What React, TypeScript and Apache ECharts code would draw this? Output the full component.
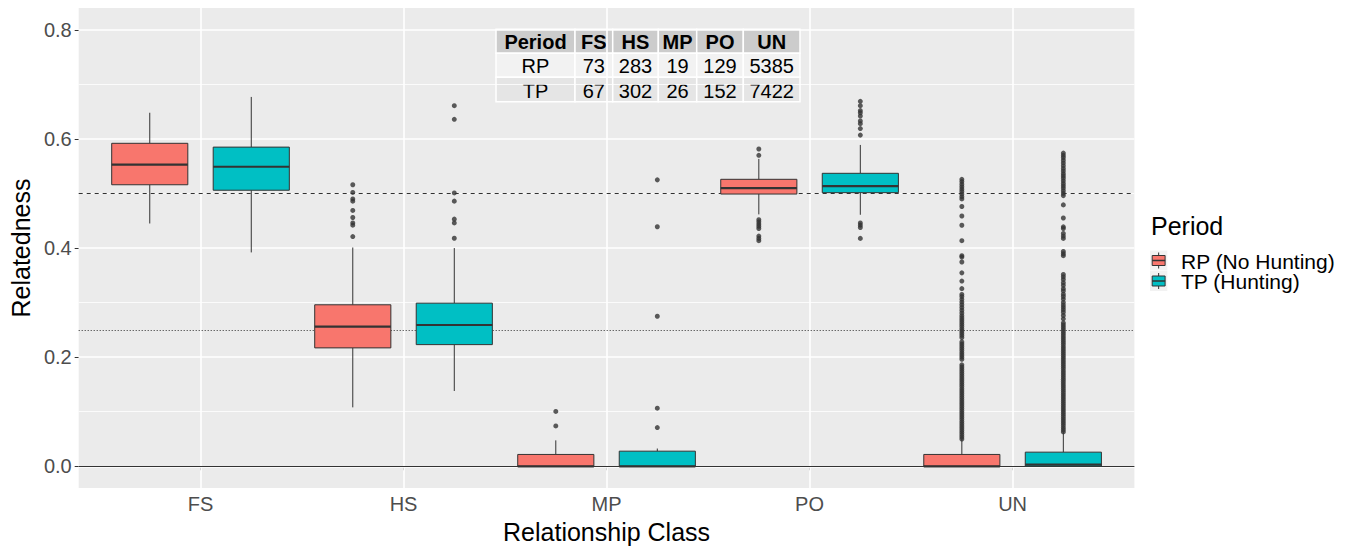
import React, { useEffect, useRef } from "react";
import * as echarts from "echarts";

const categories = ["FS", "HS", "MP", "PO", "UN"];
const periods = ["RP (No Hunting)", "TP (Hunting)"];
const periodColors = ["#F8766D", "#00BFC4"];
const yTicks = [0, 0.2, 0.4, 0.6, 0.8];
const yMinorTicks = [0.1, 0.3, 0.5, 0.7];
const refDashed = 0.5;
const refDotted = 0.25;
const refSolid = 0;

// [lowerWhisker, q1, median, q3, upperWhisker]
const boxRP = [
  [0.445, 0.516, 0.553, 0.592, 0.648],
  [0.108, 0.217, 0.256, 0.296, 0.401],
  [0, 0, 0, 0.0217, 0.0475],
  [0.4617, 0.499, 0.51, 0.526, 0.5634],
  [0, 0, 0, 0.0217, 0.05],
];
const boxTP = [
  [0.392, 0.506, 0.549, 0.585, 0.677],
  [0.138, 0.223, 0.259, 0.299, 0.4],
  [0, 0, 0, 0.0277, 0.0325],
  [0.461, 0.5015, 0.5134, 0.537, 0.589],
  [0, 0, 0.003, 0.0259, 0.0626],
];

const outFS_RP: number[] = [];
const outHS_RP = [0.516, 0.502, 0.49, 0.486, 0.469, 0.456, 0.446, 0.442, 0.421];
const outMP_RP = [0.1005, 0.074];
const outPO_RP = [0.5815, 0.57, 0.452, 0.448, 0.444, 0.44, 0.4358, 0.422, 0.4177, 0.4135];
const outUN_RP = [
  0.05, 0.054, 0.058, 0.062, 0.066, 0.07, 0.074, 0.078, 0.082, 0.086, 0.09, 0.094, 0.098,
  0.102, 0.106, 0.11, 0.114, 0.118, 0.122, 0.126, 0.13, 0.134, 0.138, 0.142, 0.146, 0.15,
  0.154, 0.158, 0.162, 0.166, 0.17, 0.174, 0.178, 0.182, 0.186, 0.196, 0.2, 0.204, 0.208,
  0.212, 0.216, 0.22, 0.224, 0.228, 0.236, 0.24, 0.244, 0.248, 0.252, 0.256, 0.26, 0.264,
  0.268, 0.272, 0.276, 0.281, 0.286, 0.291, 0.296, 0.301, 0.306, 0.311, 0.315,
  0.3256, 0.3395, 0.3545, 0.3744, 0.3834, 0.386, 0.4135, 0.4418, 0.4587, 0.4762,
  0.49, 0.4942, 0.499, 0.5038, 0.508, 0.5123, 0.517, 0.5219, 0.526,
];

const outFS_TP: number[] = [];
const outHS_TP = [0.661, 0.636, 0.501, 0.486, 0.453, 0.446, 0.418];
const outMP_TP = [0.525, 0.439, 0.275, 0.1065, 0.071];
const outPO_TP = [0.669, 0.661, 0.652, 0.648, 0.642, 0.633, 0.628, 0.619, 0.607, 0.446, 0.442, 0.4376, 0.4177];
const outUN_TP = [
  0.063, 0.067, 0.071, 0.075, 0.079, 0.083, 0.087, 0.091, 0.095, 0.099, 0.103, 0.107,
  0.111, 0.115, 0.119, 0.123, 0.127, 0.131, 0.135, 0.139, 0.143, 0.147, 0.151, 0.155,
  0.159, 0.163, 0.167, 0.171, 0.175, 0.179, 0.183, 0.187, 0.191, 0.195, 0.199, 0.203,
  0.207, 0.211, 0.215, 0.219, 0.223, 0.227, 0.231, 0.235, 0.239, 0.243, 0.247, 0.251,
  0.255, 0.259, 0.263,
  0.2703, 0.2763, 0.2823, 0.2871, 0.2913, 0.2955, 0.3003, 0.3064, 0.3112, 0.3154, 0.3214,
  0.3256, 0.3316, 0.3365, 0.3425, 0.3473, 0.3516, 0.386, 0.3895, 0.3937, 0.4177, 0.422,
  0.4268, 0.4358, 0.4389, 0.4551, 0.4791, 0.4961, 0.5003, 0.5051, 0.5099, 0.5141, 0.5183,
  0.5232, 0.528, 0.5322, 0.5364, 0.5412, 0.546, 0.551, 0.556, 0.561, 0.566, 0.57, 0.574,
];

const outliersRP = [outFS_RP, outHS_RP, outMP_RP, outPO_RP, outUN_RP];
const outliersTP = [outFS_TP, outHS_TP, outMP_TP, outPO_TP, outUN_TP];

const tableHeader = ["Period", ...categories];
const tableRowLabels = ["RP", "TP"];
const countsRP = [73, 283, 19, 129, 5385];
const countsTP = [67, 302, 26, 152, 7422];

const FONT = "'Liberation Sans', Arial, sans-serif";
const DODGE = 0.25;
const HALF = 0.1875;
const INK = "#333333";

function boxSeries(name: string, boxes: number[][], offset: number, color: string) {
  const data = boxes.map((b, i) => [i + 1, ...b]);
  return {
    type: "custom",
    name,
    z: 3,
    encode: { x: 0, y: [1, 2, 3, 4, 5] },
    data,
    renderItem: (params: any, api: any) => {
      const x = api.value(0) + offset;
      const lw = api.value(1), q1 = api.value(2), med = api.value(3), q3 = api.value(4), uw = api.value(5);
      const c = api.coord([x, q1]);
      const pUW = api.coord([x, uw]);
      const pLW = api.coord([x, lw]);
      const pTL = api.coord([x - HALF, q3]);
      const pBR = api.coord([x + HALF, q1]);
      const pML = api.coord([x - HALF, med]);
      const pMR = api.coord([x + HALF, med]);
      const pQ3 = api.coord([x, q3]);
      return {
        type: "group",
        children: [
          { type: "line", shape: { x1: pQ3[0], y1: pQ3[1], x2: pUW[0], y2: pUW[1] }, style: { stroke: INK, lineWidth: 1 } },
          { type: "line", shape: { x1: c[0], y1: c[1], x2: pLW[0], y2: pLW[1] }, style: { stroke: INK, lineWidth: 1 } },
          {
            type: "rect",
            shape: { x: pTL[0], y: pTL[1], width: pBR[0] - pTL[0], height: pBR[1] - pTL[1] },
            style: { fill: color, stroke: INK, lineWidth: 1 },
          },
          { type: "line", shape: { x1: pML[0], y1: pML[1], x2: pMR[0], y2: pMR[1] }, style: { stroke: INK, lineWidth: 2.2 } },
        ],
      };
    },
  };
}

function outlierSeries(name: string, outs: number[][], offset: number) {
  const data: number[][] = [];
  outs.forEach((arr, i) => arr.forEach((v) => data.push([i + 1 + offset, v])));
  return {
    type: "scatter",
    name,
    z: 4,
    data,
    symbol: "circle",
    symbolSize: 5,
    itemStyle: { color: INK },
    silent: true,
  };
}

function buildTable() {
  const colX = [496, 575, 612.7, 658.3, 696.7, 743.3, 800];
  const rowY = [29.3, 53.3, 77.3, 101.7];
  const fills = ["#CCCCCC", "#F2F2F2", "#E5E5E5"];
  const rows = [tableHeader, [tableRowLabels[0], ...countsRP.map(String)], [tableRowLabels[1], ...countsTP.map(String)]];
  const children: any[] = [];
  rows.forEach((row, r) => {
    row.forEach((txt, c) => {
      children.push({
        type: "rect",
        shape: { x: colX[c], y: rowY[r], width: colX[c + 1] - colX[c], height: rowY[r + 1] - rowY[r] },
        style: { fill: fills[r], stroke: "#FFFFFF", lineWidth: 1.5 },
      });
      children.push({
        type: "text",
        x: (colX[c] + colX[c + 1]) / 2,
        y: (rowY[r] + rowY[r + 1]) / 2 + 1,
        style: {
          text: txt,
          fill: "#000000",
          font: `${r === 0 ? "bold " : ""}20px ${FONT}`,
          align: "center",
          verticalAlign: "middle",
        },
      });
    });
  });
  return { type: "group", children, z: 10 };
}

function buildLegend() {
  const children: any[] = [
    {
      type: "text",
      x: 1151,
      y: 226,
      style: { text: "Period", fill: "#000", font: `25px ${FONT}`, verticalAlign: "middle" },
    },
  ];
  periods.forEach((p, i) => {
    const top = 250.5 + i * 20.5;
    const left = 1150;
    const w = 17.3, h = 20;
    children.push({ type: "rect", shape: { x: left, y: top, width: w, height: h }, style: { fill: "#F2F2F2" } });
    children.push({ type: "line", shape: { x1: left + w / 2, y1: top + 2, x2: left + w / 2, y2: top + h - 2 }, style: { stroke: INK, lineWidth: 1 } });
    children.push({ type: "rect", shape: { x: left + 2.2, y: top + 5, width: w - 4.4, height: 10 }, style: { fill: periodColors[i], stroke: INK, lineWidth: 1 } });
    children.push({ type: "line", shape: { x1: left + 2.2, y1: top + 10, x2: left + w - 2.2, y2: top + 10 }, style: { stroke: INK, lineWidth: 1.5 } });
    children.push({
      type: "text",
      x: 1181,
      y: top + 10.5,
      style: { text: p, fill: "#000", font: `21px ${FONT}`, verticalAlign: "middle" },
    });
  });
  return { type: "group", children };
}

export default function App() {
  const ref = useRef<HTMLDivElement>(null);
  useEffect(() => {
    if (!ref.current) return;
    const chart = echarts.init(ref.current, undefined, { renderer: "svg" });
    const majorLine = { color: "#FFFFFF", width: 1.6, type: "solid" };
    const minorLine = { color: "#FFFFFF", width: 0.8, type: "solid" };
    const gridMarks = [
      ...yTicks.map((v) => ({ yAxis: v, lineStyle: majorLine })),
      ...yMinorTicks.map((v) => ({ yAxis: v, lineStyle: minorLine })),
      ...categories.map((_, i) => ({ xAxis: i + 1, lineStyle: majorLine })),
    ];
    const refMarks = [
      { yAxis: refSolid, lineStyle: { color: INK, width: 1, type: "solid" } },
      { yAxis: refDashed, lineStyle: { color: "#1a1a1a", width: 0.9, type: [4, 4] } },
      { yAxis: refDotted, lineStyle: { color: "#1a1a1a", width: 0.9, type: [1, 2] } },
    ];
    const markBase = { silent: true, symbol: ["none", "none"], label: { show: false }, emphasis: { disabled: true }, animation: false };
    chart.setOption({
      animation: false,
      grid: {
        left: 73.6,
        right: 215.6,
        top: 8,
        bottom: 54,
        show: true,
        backgroundColor: "#EBEBEB",
        borderWidth: 0,
        containLabel: false,
      },
      xAxis: {
        type: "value",
        min: 0.4,
        max: 5.6,
        axisLine: { show: false },
        splitLine: { show: false },
        axisTick: { show: true, customValues: [1, 2, 3, 4, 5], length: 4, lineStyle: { color: INK } },
        axisLabel: {
          customValues: [1, 2, 3, 4, 5],
          formatter: (v: number) => categories[Math.round(v) - 1] ?? "",
          color: "#4D4D4D",
          fontSize: 20,
          fontFamily: FONT,
          margin: 6,
        },
        name: "Relationship Class",
        nameLocation: "middle",
        nameGap: 28,
        nameTextStyle: { fontSize: 25, color: "#000", fontFamily: FONT, verticalAlign: "top" },
      },
      yAxis: {
        type: "value",
        min: -0.04,
        max: 0.84,
        axisLine: { show: false },
        splitLine: { show: false },
        axisTick: { show: true, customValues: yTicks, length: 4, lineStyle: { color: INK } },
        axisLabel: {
          customValues: yTicks,
          formatter: (v: number) => v.toFixed(1),
          color: "#4D4D4D",
          fontSize: 20,
          fontFamily: FONT,
          margin: 7,
        },
        name: "Relatedness",
        nameLocation: "middle",
        nameGap: 40,
        nameRotate: 90,
        nameTextStyle: { fontSize: 25, color: "#000", fontFamily: FONT },
      },
      series: [
        { type: "scatter", name: "_grid", data: [], z: 1, markLine: { ...markBase, z: 1, data: gridMarks } },
        { type: "scatter", name: "_refs", data: [], z: 2, markLine: { ...markBase, z: 2, data: refMarks } },
        boxSeries(periods[0], boxRP, -DODGE, periodColors[0]),
        boxSeries(periods[1], boxTP, DODGE, periodColors[1]),
        outlierSeries(periods[0] + " outliers", outliersRP, -DODGE),
        outlierSeries(periods[1] + " outliers", outliersTP, DODGE),
      ],
      graphic: [buildTable(), buildLegend()],
    });
    return () => chart.dispose();
  }, []);
  return (
    <div
      ref={ref}
      style={{ position: "fixed", left: 0, top: 0, width: 1350, height: 549, background: "#FFFFFF" }}
    />
  );
}
